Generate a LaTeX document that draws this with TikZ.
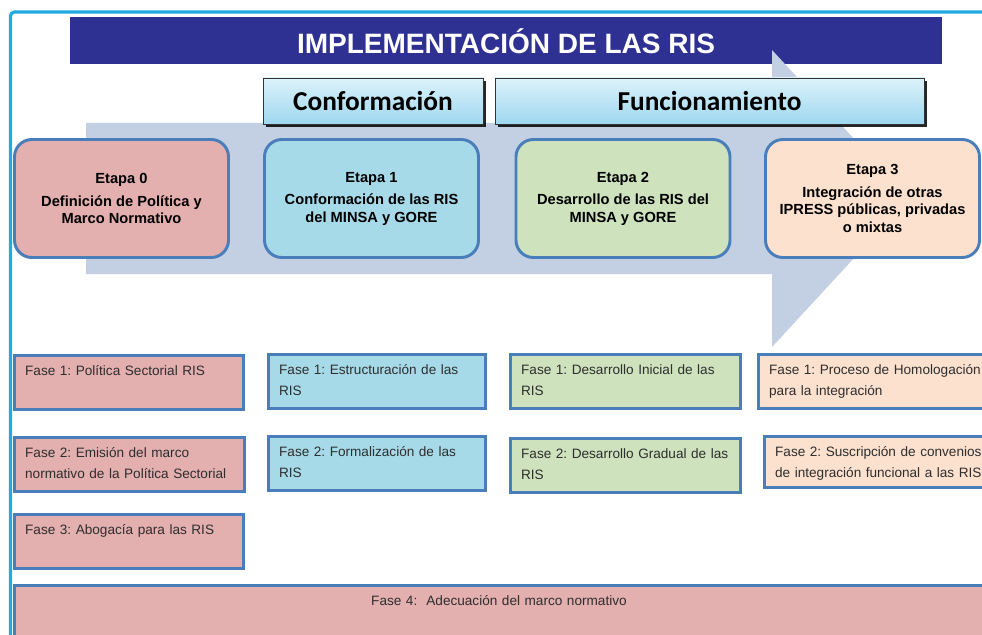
\documentclass[tikz,border=0pt]{standalone}
\usepackage{fontspec}
\setmainfont{Liberation Sans}
\newfontfamily\calibri{Carlito}
\usetikzlibrary{shadows}
\definecolor{marco}{HTML}{21A9E1}
\definecolor{titulo}{HTML}{2E3192}
\definecolor{flecha}{HTML}{C3CFE3}
\definecolor{borde}{HTML}{4A7EBB}
\definecolor{rosa}{HTML}{E3AFAF}
\definecolor{celeste}{HTML}{A7DAE8}
\definecolor{verde}{HTML}{CDE2BD}
\definecolor{durazno}{HTML}{FCE1CF}
\definecolor{cabarriba}{HTML}{DCF2FB}
\definecolor{cababajo}{HTML}{9ED8EF}
\frenchspacing
\begin{document}
\begin{tikzpicture}[x=0.75pt, y=-0.75pt,
    etapa/.style={draw=borde, line width=2.2pt, rounded corners=13pt, minimum width=160.5pt,
      minimum height=88.5pt, align=center, font=\bfseries\fontsize{11}{13}\selectfont},
    fase/.style={draw=borde, line width=2.2pt, anchor=north west, align=left, inner xsep=8pt,
      inner ysep=3pt, text height=12pt, text depth=22.5pt, text=black!82,
      font=\fontsize{10.2}{15.5}\selectfont},
    cabecera/.style={draw=black!80, line width=0.6pt, top color=cabarriba, bottom color=cababajo,
      minimum height=34.5pt, font=\calibri\bfseries\fontsize{20.5}{24}\selectfont,
      drop shadow={shadow xshift=2pt, shadow yshift=-2pt, fill=black, opacity=0.85}}]
  \useasboundingbox (0,0) rectangle (982,635);
  \fill[white] (0,0) rectangle (982,635);
  \draw[marco, line width=2.4pt, rounded corners=3pt] (10.5,645) -- (10.5,12) -- (995,12);
  \node[fill=titulo, minimum width=654pt, minimum height=35.25pt, text=white,
    font=\bfseries\fontsize{21}{24}\selectfont] (titulo) at (506,41) {IMPLEMENTACIÓN DE LAS RIS};
  \fill[flecha] (86,123) -- (772,123) -- (772,50) -- (909,198.5) -- (772,347) -- (772,274) -- (86,274) -- cycle;
  \node[cabecera, minimum width=165pt] (conf) at (373,101) {Conformación};
  \node[cabecera, minimum width=321.75pt] (func) at (709.5,101) {Funcionamiento};

  \node[etapa, fill=rosa] (e0) at (121.5,198.5) {Etapa 0\\[4pt]Definición de Política y\\Marco Normativo};
  \node[etapa, fill=celeste] (e1) at (371.5,198.5) {Etapa 1\\[4pt]Conformación de las RIS\\del MINSA y GORE};
  \node[etapa, fill=verde] (e2) at (623,198.5) {Etapa 2\\[4pt]Desarrollo de las RIS del\\MINSA y GORE};
  \node[etapa, fill=durazno] (e3) at (872.5,198.5) {Etapa 3\\[4pt]Integración de otras\\IPRESS públicas, privadas\\o mixtas};

  \node[fase, fill=rosa, text width=155.75pt] (f01) at (13,354) {Fase 1: Política Sectorial RIS};
  \node[fase, fill=rosa, text width=156.5pt] (f02) at (13,436) {Fase 2: Emisión del marco\\normativo de la Política Sectorial};
  \node[fase, fill=rosa, text width=155.75pt] (f03) at (13,513) {Fase 3: Abogacía para las RIS};
  \node[fase, fill=rosa, text width=710.75pt, align=center, text depth=40pt] (f04) at (13,584) {Fase 4: \ Adecuación del marco normativo};

  \node[fase, fill=celeste, text width=146.75pt] (f11) at (267,353) {Fase 1: Estructuración de las\\RIS};
  \node[fase, fill=celeste, text width=146.75pt] (f12) at (267,435) {Fase 2: Formalización de las\\RIS};

  \node[fase, fill=verde, text width=156.5pt] (f21) at (509,353) {Fase 1: Desarrollo Inicial de las\\RIS};
  \node[fase, fill=verde, text width=156.5pt] (f22) at (509,437) {Fase 2: Desarrollo Gradual de las\\RIS};

  \node[fase, fill=durazno, text width=164pt] (f31) at (757,353) {Fase 1: Proceso de Homologación\\para la integración};
  \node[fase, fill=durazno, text width=164pt, text depth=20pt] (f32) at (763,435) {Fase 2: Suscripción de convenios\\de integración funcional a las RIS};
\end{tikzpicture}
\end{document}
